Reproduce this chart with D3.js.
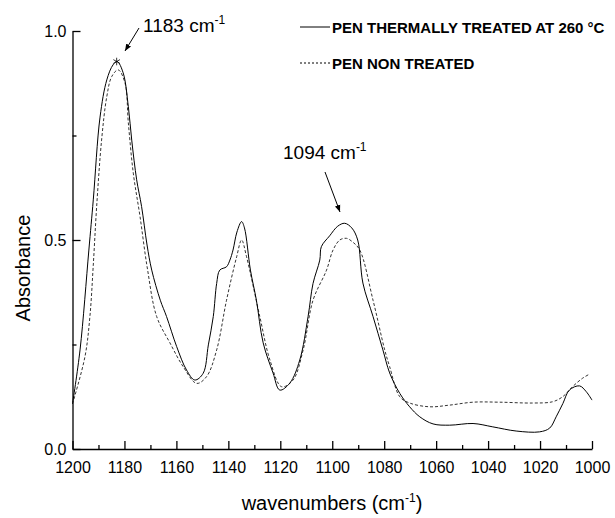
<!DOCTYPE html>
<html>
<head>
<meta charset="utf-8">
<script src="https://cdn.jsdelivr.net/npm/d3@7"></script>
<style>
  body { margin: 0; background: #fff; }
  svg { display: block; font-family: "Liberation Sans", Arial, sans-serif; }
</style>
</head>
<body>
<svg id="chart" width="615" height="518"></svg>
<script>
// PEN thermally treated at 260 °C (solid)
const treated = [
  [1200, 0.108], [1197.1, 0.237], [1193.7, 0.476], [1192.0, 0.596], [1189.4, 0.794],
  [1186.8, 0.883], [1184.4, 0.919], [1182.8, 0.927], [1180.5, 0.900], [1178.5, 0.819],
  [1177.2, 0.739], [1175.3, 0.644], [1173.4, 0.580], [1171.3, 0.488], [1169.5, 0.428],
  [1166.2, 0.356], [1163.8, 0.317], [1159.9, 0.245], [1156.1, 0.189], [1152.9, 0.165],
  [1149.7, 0.181], [1147.7, 0.249], [1145.8, 0.317], [1144.5, 0.396], [1143.3, 0.428],
  [1140.7, 0.436], [1139.4, 0.452], [1138.2, 0.476], [1136.7, 0.519], [1134.9, 0.544],
  [1133.8, 0.529], [1131.5, 0.428], [1129.2, 0.356], [1126.6, 0.254], [1122.8, 0.182],
  [1120.2, 0.141], [1116.3, 0.158], [1112.5, 0.213], [1109.3, 0.317], [1107.4, 0.396],
  [1104.8, 0.452], [1104.2, 0.484], [1101.0, 0.510], [1097.9, 0.533], [1095.2, 0.540],
  [1092.5, 0.529], [1090.2, 0.500], [1088.2, 0.397], [1084.3, 0.317], [1080.5, 0.237],
  [1077.9, 0.182], [1074.0, 0.133], [1070.2, 0.101], [1066.3, 0.077], [1061.2, 0.060],
  [1054.8, 0.057], [1045.8, 0.061], [1038.2, 0.053], [1029.2, 0.043], [1020.2, 0.041],
  [1016.3, 0.050], [1013.8, 0.077], [1011.2, 0.109], [1008.7, 0.141], [1004.8, 0.151],
  [1002.2, 0.137], [1000, 0.117]
];

// PEN non treated (dashed)
const nonTreated = [
  [1200, 0.108], [1195.2, 0.221], [1193.3, 0.317], [1192.0, 0.440], [1190.7, 0.580],
  [1188.8, 0.739], [1186.8, 0.843], [1184.9, 0.891], [1182.4, 0.907], [1179.8, 0.876],
  [1178.5, 0.780], [1176.6, 0.660], [1174.0, 0.556], [1171.2, 0.433], [1167.6, 0.317],
  [1162.5, 0.254], [1157.4, 0.197], [1152.2, 0.157], [1148.4, 0.173], [1144.5, 0.237],
  [1140.7, 0.356], [1136.8, 0.460], [1134.9, 0.500], [1133.0, 0.460], [1127.9, 0.317],
  [1124.0, 0.213], [1119.5, 0.149], [1115.1, 0.165], [1111.2, 0.237], [1107.4, 0.356],
  [1102.2, 0.428], [1099.7, 0.476], [1097.1, 0.500], [1094.5, 0.504], [1092.1, 0.495],
  [1089.4, 0.476], [1084.3, 0.356], [1079.8, 0.237], [1077.9, 0.197], [1074.0, 0.125],
  [1070.2, 0.110], [1062.5, 0.101], [1054.8, 0.105], [1045.8, 0.112], [1035.6, 0.112],
  [1022.9, 0.110], [1015.2, 0.113], [1011.3, 0.125], [1007.5, 0.149], [1003.7, 0.169],
  [1001.0, 0.179]
];

const xMajor = [1200, 1180, 1160, 1140, 1120, 1100, 1080, 1060, 1040, 1020, 1000];
const xMinor = [1190, 1170, 1150, 1130, 1110, 1090, 1070, 1050, 1030, 1010];
const yMajor = [0, 0.5, 1.0];
const yMinor = [0.25, 0.75];

const legendLabels = ["PEN THERMALLY TREATED AT 260 °C", "PEN NON TREATED"];
const peaks = [
  { label: "1183", x: 1183, y: 0.927 },
  { label: "1094", x: 1094, y: 0.540 }
];

const svg = d3.select("#chart");
const x = d3.scaleLinear().domain([1200, 1000]).range([72.5, 592]);
const y = d3.scaleLinear().domain([0, 1]).range([449, 31]);

// Axes (minor ticks first, then labelled majors)
const gx = svg.append("g").attr("transform", "translate(0,449)");
gx.call(d3.axisBottom(x).tickValues(xMinor).tickSizeInner(-4).tickSizeOuter(0).tickFormat(""));
gx.call(g => g.select(".domain").remove());
const gx2 = svg.append("g").attr("transform", "translate(0,449)");
gx2.call(d3.axisBottom(x).tickValues(xMajor).tickSizeInner(-8).tickSizeOuter(0).tickPadding(13).tickFormat(d3.format("d")));
gx2.selectAll("text").style("font-size", "16px").attr("fill", "#000");

const gy = svg.append("g").attr("transform", "translate(72.5,0)");
gy.call(d3.axisLeft(y).tickValues(yMinor).tickSizeInner(-4).tickSizeOuter(0).tickFormat(""));
gy.call(g => g.select(".domain").remove());
const gy2 = svg.append("g").attr("transform", "translate(72.5,0)");
gy2.call(d3.axisLeft(y).tickValues(yMajor).tickSizeInner(-8).tickSizeOuter(0).tickPadding(6).tickFormat(d3.format(".1f")));
gy2.selectAll("text").style("font-size", "16px").attr("fill", "#000");

svg.selectAll(".domain, .tick line").attr("stroke", "#000").attr("stroke-width", 1.3);

// Axis titles
svg.append("text")
  .attr("x", 332).attr("y", 510)
  .attr("text-anchor", "middle")
  .style("font-size", "20px")
  .call(t => {
    t.append("tspan").text("wavenumbers (cm");
    t.append("tspan").attr("dy", -8).style("font-size", "12px").text("-1");
    t.append("tspan").attr("dy", 8).text(")");
  });

svg.append("text")
  .attr("transform", "translate(30,268) rotate(-90)")
  .attr("text-anchor", "middle")
  .style("font-size", "20px")
  .text("Absorbance");

// Curves
const line = d3.line()
  .x(d => x(d[0]))
  .y(d => y(d[1]))
  .curve(d3.curveCatmullRom.alpha(0.5));

svg.append("path")
  .datum(nonTreated)
  .attr("fill", "none")
  .attr("stroke", "#333")
  .attr("stroke-width", 1)
  .attr("stroke-dasharray", "3,2")
  .attr("d", line);

svg.append("path")
  .datum(treated)
  .attr("fill", "none")
  .attr("stroke", "#000")
  .attr("stroke-width", 1)
  .attr("d", line);

// Peak marker
svg.append("path")
  .attr("transform", `translate(${x(peaks[0].x)},${y(peaks[0].y)})`)
  .attr("d", d3.symbol().type(d3.symbolAsterisk).size(40)())
  .attr("fill", "none")
  .attr("stroke", "#000")
  .attr("stroke-width", 0.8);

// Legend
const legend = svg.append("g");
legendLabels.forEach((lab, i) => {
  const ly = i === 0 ? 27 : 63;
  legend.append("line")
    .attr("x1", 300).attr("x2", 330)
    .attr("y1", ly).attr("y2", ly)
    .attr("stroke", "#000").attr("stroke-width", 1)
    .attr("stroke-dasharray", i === 0 ? null : "2,2");
  legend.append("text")
    .attr("x", 332).attr("y", ly + 5.5)
    .style("font-size", "15px")
    .style("font-weight", "bold")
    .text(lab);
});

// Annotations with arrows
svg.append("defs").append("marker")
  .attr("id", "arrow")
  .attr("viewBox", "0 0 10 10")
  .attr("refX", 10).attr("refY", 5)
  .attr("markerWidth", 7).attr("markerHeight", 7)
  .attr("orient", "auto")
  .append("path").attr("d", "M0,1L10,5L0,9z").attr("fill", "#000");

const annot = [
  { p: peaks[0], tx: 143, ty: 32, ax1: 139, ay1: 28, ax2: 125, ay2: 51 },
  { p: peaks[1], tx: 283, ty: 159, ax1: 325, ay1: 172, ax2: 340, ay2: 212 }
];
annot.forEach(a => {
  svg.append("text")
    .attr("x", a.tx).attr("y", a.ty)
    .style("font-size", "19px")
    .call(t => {
      t.append("tspan").text(a.p.label + " cm");
      t.append("tspan").attr("dy", -8).style("font-size", "12px").text("-1");
    });
  svg.append("line")
    .attr("x1", a.ax1).attr("y1", a.ay1)
    .attr("x2", a.ax2).attr("y2", a.ay2)
    .attr("stroke", "#000").attr("stroke-width", 1)
    .attr("marker-end", "url(#arrow)");
});
</script>
</body>
</html>
